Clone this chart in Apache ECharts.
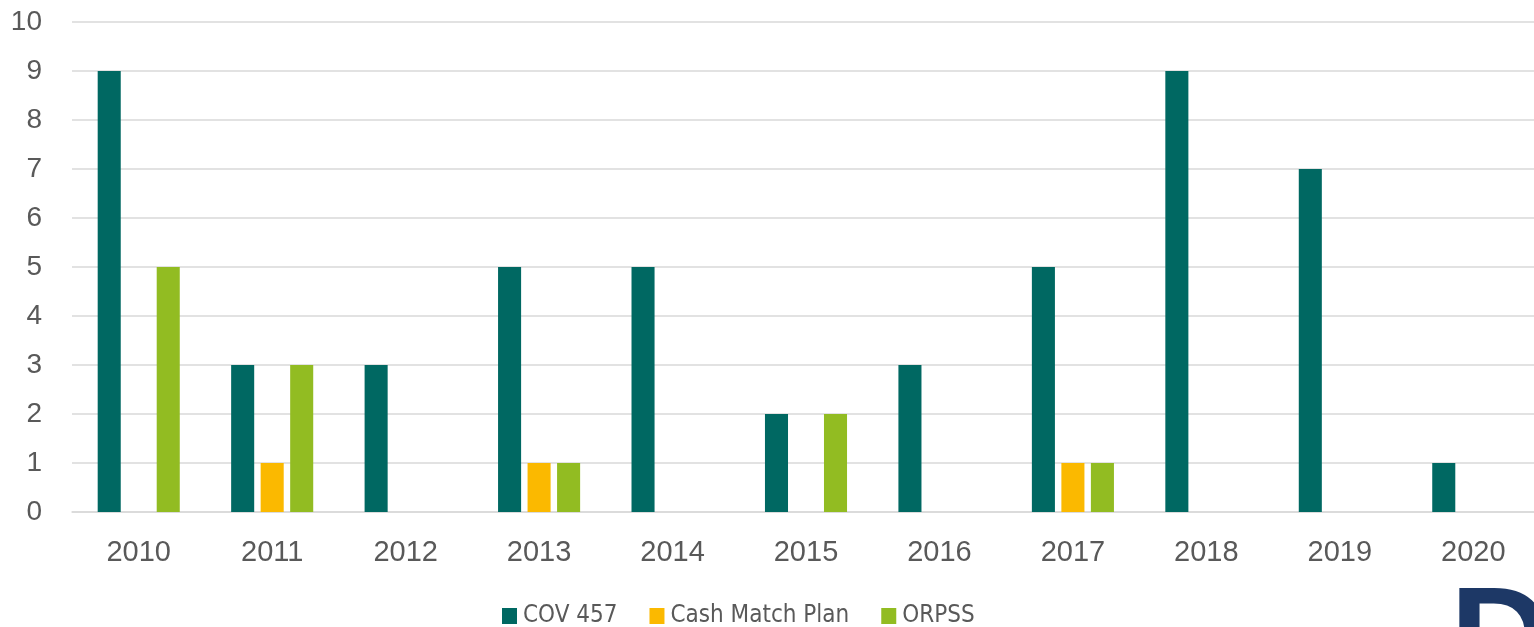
<!DOCTYPE html>
<html>
<head>
<meta charset="utf-8">
<script src="https://cdn.jsdelivr.net/npm/echarts@6/dist/echarts.min.js"></script>
<style>
    html, body { margin: 0; padding: 0; background: #fff; }
    #chart { width: 1534px; height: 627px; }
</style>
</head>
<body>
<div id="chart"></div>
<script>
var years = ['2010', '2011', '2012', '2013', '2014', '2015', '2016', '2017', '2018', '2019', '2020'];
var cov457 = [9, 3, 3, 5, 5, 2, 3, 5, 9, 7, 1];
var cashMatch = [0, 1, 0, 1, 0, 0, 0, 1, 0, 0, 0];
var orpss = [5, 3, 0, 1, 0, 2, 0, 1, 0, 0, 0];
var yTicks = { min: 0, max: 10, step: 1 };

var labelColor = '#595959';
var gridColor = '#d9d9d9';

var chart = echarts.init(document.getElementById('chart'));

var option = {
    animation: false,
    color: ['#006862', '#fbb900', '#92bc22'],
    grid: {
        left: 72,
        width: 1468,
        top: 22,
        bottom: 115,
        outerBoundsMode: 'none'
    },
    legend: {
        left: 497,
        top: 599,
        icon: 'rect',
        itemWidth: 15,
        itemHeight: 16,
        itemGap: 32,
        textStyle: {
            color: labelColor,
            fontSize: 24,
            fontFamily: "'Liberation Sans Narrow', 'DejaVu Sans Condensed', sans-serif",
            padding: [0, 0, 0, 1]
        }
    },
    xAxis: {
        type: 'category',
        data: years,
        axisTick: { show: false },
        axisLine: {
            lineStyle: { color: gridColor, width: 1.5 }
        },
        axisLabel: {
            color: labelColor,
            fontSize: 29,
            fontFamily: "'Liberation Sans', Arial, sans-serif",
            margin: 26
        }
    },
    yAxis: {
        type: 'value',
        min: yTicks.min,
        max: yTicks.max,
        interval: yTicks.step,
        axisLine: { show: false },
        axisTick: { show: false },
        axisLabel: {
            color: labelColor,
            fontSize: 28,
            fontFamily: "'Liberation Sans', Arial, sans-serif",
            margin: 30
        },
        splitLine: {
            lineStyle: { color: gridColor, width: 1.5 }
        }
    },
    series: [
        { name: 'COV 457', type: 'bar', data: cov457, barGap: '28%', barCategoryGap: '38.5%' },
        { name: 'Cash Match Plan', type: 'bar', data: cashMatch },
        { name: 'ORPSS', type: 'bar', data: orpss }
    ],
    graphic: [
        {
            type: 'text',
            left: 1450,
            top: 575,
            style: {
                text: 'D',
                fontSize: 140,
                fontWeight: 'bold',
                fontFamily: "'Liberation Sans', Arial, sans-serif",
                fill: '#1d3866'
            }
        }
    ]
};

chart.setOption(option);
</script>
</body>
</html>
